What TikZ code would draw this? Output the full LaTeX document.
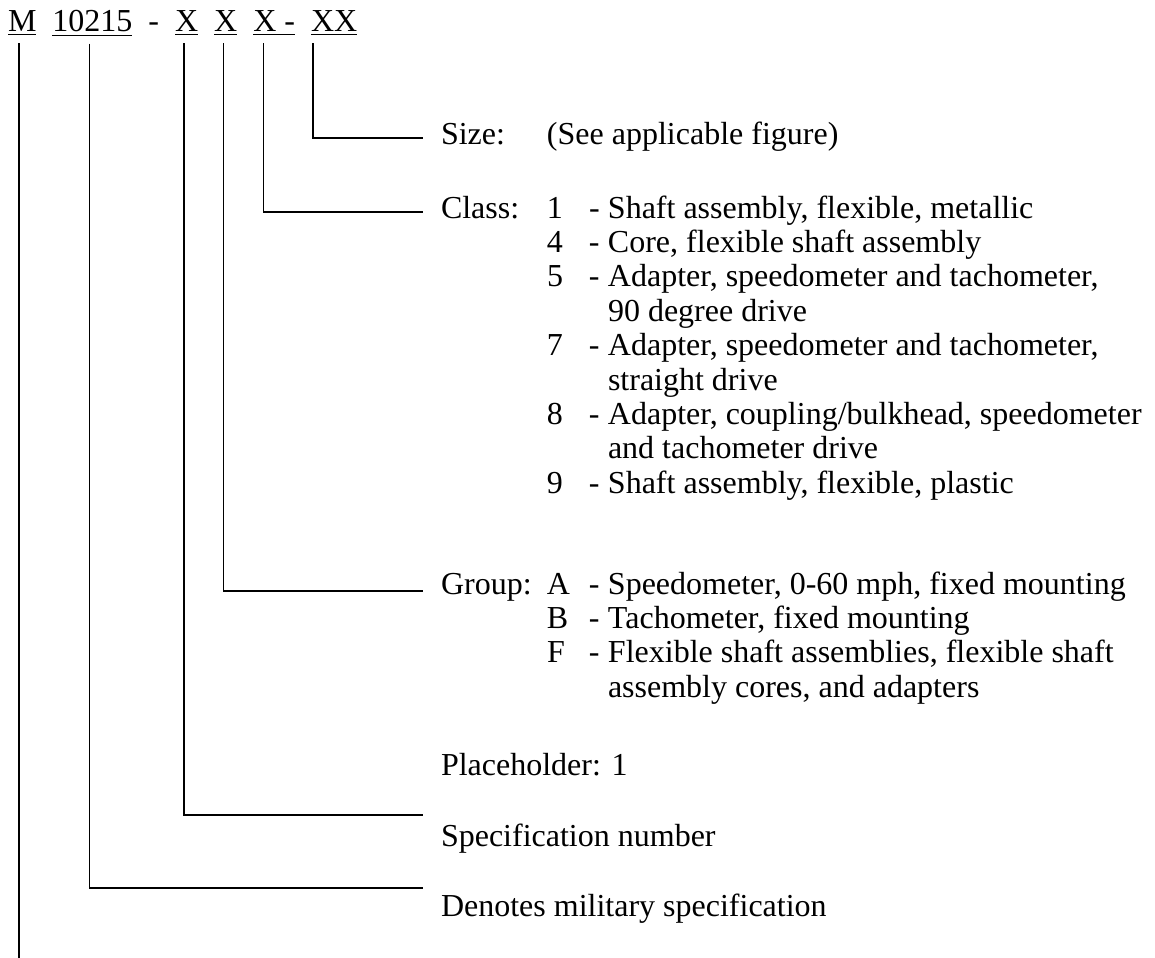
\documentclass[tikz,border=0pt]{standalone}
\usepackage{fontspec}
\setmainfont{Liberation Serif}
\usetikzlibrary{positioning}

\begin{document}
\begin{tikzpicture}[x=0.375pt,y=-0.375pt,node distance=6pt,
    code/.style={inner sep=0pt,outer sep=0pt,font=\fontsize{12}{12.9}\selectfont},
    lbl/.style={inner sep=0pt,outer sep=0pt,anchor=base west,align=left,font=\fontsize{12}{12.9}\selectfont},
    lead/.style={line width=0.5pt}]
  \useasboundingbox (0,0) rectangle (1155,958);
  % part number, piece by piece
  \node[code,anchor=base west] (cM) at (8,31) {\underline{M}};
  \node[code,base right=of cM] (cSpec) {\underline{10215}};
  \node[code,base right=of cSpec] (cDash) {-};
  \node[code,base right=of cDash] (cPlace) {\underline{X}};
  \node[code,base right=of cPlace] (cGroup) {\underline{X}};
  \node[code,base right=of cGroup] (cClass) {\underline{X -}};
  \node[code,base right=of cClass] (cSize) {\underline{XX}};
  % explanations
  \node[lbl] (lSize) at (441,144) {\begin{tabular}[t]{@{}p{39.75pt}@{}l@{}}Size: & (See applicable figure)\end{tabular}};
  \node[lbl] (lClass) at (441,218) {\begin{tabular}[t]{@{}p{39.75pt}@{}p{15.75pt}@{}p{7.125pt}@{}l@{}}
    Class: & 1 & - & Shaft assembly, flexible, metallic\\
     & 4 & - & Core, flexible shaft assembly\\
     & 5 & - & Adapter, speedometer and tachometer,\\
     & & & 90 degree drive\\
     & 7 & - & Adapter, speedometer and tachometer,\\
     & & & straight drive\\
     & 8 & - & Adapter, coupling/bulkhead, speedometer\\
     & & & and tachometer drive\\
     & 9 & - & Shaft assembly, flexible, plastic
    \end{tabular}};
  \node[lbl] (lGroup) at (441,594) {\begin{tabular}[t]{@{}p{39.75pt}@{}p{15.75pt}@{}p{7.125pt}@{}l@{}}
    Group: & A & - & Speedometer, 0-60 mph, fixed mounting\\
     & B & - & Tachometer, fixed mounting\\
     & F & - & Flexible shaft assemblies, flexible shaft\\
     & & & assembly cores, and adapters
    \end{tabular}};
  \node[lbl] (lPlace) at (441,775) {Placeholder: 1};
  \node[lbl] (lSpec) at (441,846) {Specification number};
  \node[lbl] (lMil) at (441,916) {Denotes military specification};
  % leader ends
  \coordinate (eSize) at (423,138);
  \coordinate (eClass) at (423,212);
  \coordinate (eGroup) at (423,591);
  \coordinate (eSpec) at (423,815);
  \coordinate (eMil) at (423,888);
  \draw[lead] (cSize.south west) ++(2,7) |- (eSize);
  \draw[lead] (cClass.south west) ++(10,7) |- (eClass);
  \draw[lead] (cGroup.south west) ++(9,7) |- (eGroup);
  \draw[lead] (cPlace.south west) ++(9,7) |- (eSpec);
  \draw[lead] (cSpec.south west) ++(37,7) |- (eMil);
  \draw[lead] (cM.south west) ++(11,7) -- ++(0,930);
\end{tikzpicture}
\end{document}
